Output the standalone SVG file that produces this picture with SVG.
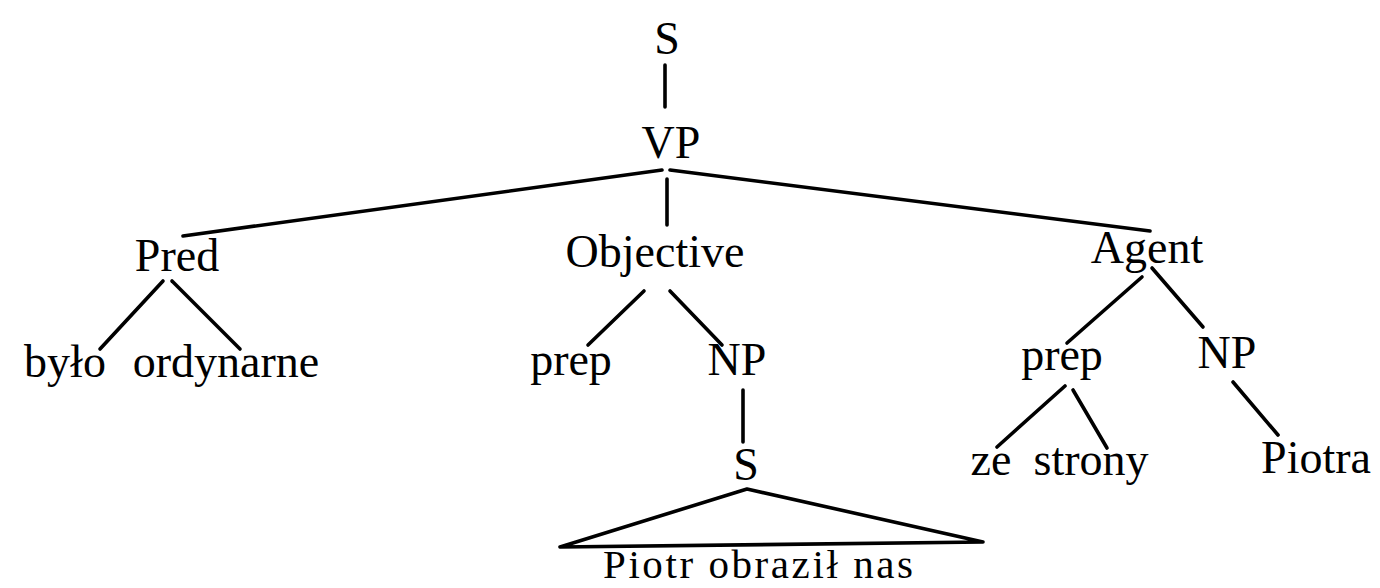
<svg xmlns="http://www.w3.org/2000/svg" width="1380" height="588" viewBox="0 0 1380 588">
<style>
.t{font-family:"Liberation Serif","Times New Roman",serif;font-size:46px;fill:#000;text-anchor:middle}
.e{stroke:#000;stroke-width:3.6;fill:none;stroke-linecap:round}
</style>
<rect width="1380" height="588" fill="#fff"/>
<g id="connectors">
<line class="e" x1="665" y1="65" x2="665" y2="107"/>
<line class="e" x1="662" y1="170" x2="183" y2="236"/>
<line class="e" x1="670" y1="170" x2="1150" y2="231"/>
<line class="e" x1="667" y1="179" x2="667" y2="225"/>
<line class="e" x1="163" y1="281" x2="100" y2="349"/>
<line class="e" x1="172" y1="281" x2="240" y2="349"/>
<line class="e" x1="644" y1="291" x2="588" y2="345"/>
<line class="e" x1="670" y1="291" x2="722" y2="345"/>
<line class="e" x1="743" y1="390" x2="743" y2="442"/>
<path class="e" d="M747 489 L560 547 L983 542 Z" stroke-linejoin="round"/>
<line class="e" x1="1142" y1="277" x2="1067" y2="343"/>
<line class="e" x1="1152" y1="268" x2="1203" y2="327"/>
<line class="e" x1="1065" y1="386" x2="997" y2="447"/>
<line class="e" x1="1073" y1="390" x2="1107" y2="448"/>
<line class="e" x1="1233" y1="382" x2="1278" y2="435"/>
</g>
<g id="n-S"><text class="t" x="667" y="54">S</text></g>
<g id="n-VP"><text class="t" x="671" y="158">VP</text></g>
<g id="n-Pred"><text class="t" x="177" y="271">Pred</text></g>
<g id="n-Objective"><text class="t" x="655" y="267">Objective</text></g>
<g id="n-Agent"><text class="t" x="1147" y="263">Agent</text></g>
<g id="n-bylo"><text class="t" x="65" y="377">było</text></g>
<g id="n-ordynarne"><text class="t" x="226" y="377">ordynarne</text></g>
<g id="n-prep1"><text class="t" x="571" y="375">prep</text></g>
<g id="n-NP1"><text class="t" x="737" y="375">NP</text></g>
<g id="n-S2"><text class="t" x="746" y="480">S</text></g>
<g id="n-sentence"><text class="t" x="758" y="578" style="font-size:41px" textLength="310" lengthAdjust="spacing">Piotr obraził nas</text></g>
<g id="n-prep2"><text class="t" x="1062" y="370">prep</text></g>
<g id="n-NP2"><text class="t" x="1227" y="368">NP</text></g>
<g id="n-ze"><text class="t" x="991" y="475">ze</text></g>
<g id="n-strony"><text class="t" x="1091" y="475">strony</text></g>
<g id="n-Piotra"><text class="t" x="1316" y="473">Piotra</text></g>
</svg>
